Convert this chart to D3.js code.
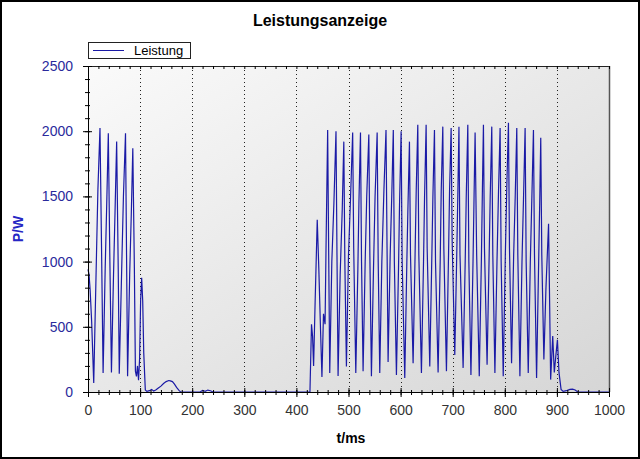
<!DOCTYPE html>
<html>
<head>
<meta charset="utf-8">
<script src="https://cdn.jsdelivr.net/npm/d3@7"></script>
<style>
  body { margin: 0; background: #fff; }
  svg { display: block; font-family: Arial, "Liberation Sans", sans-serif; }
</style>
</head>
<body>
<div id="chart"></div>
<script>
// values: time in ms, power in W
const timeMs = [
  0, 2, 4, 7, 11, 16, 19, 23, 26, 29, 33, 36, 39, 42, 45, 49, 52, 55, 58, 60,
  65, 68, 72, 74, 76, 80, 83, 86, 89, 91, 93, 95, 97, 99, 101, 103, 105, 107, 110, 113,
  118, 122, 126, 130, 135, 140, 145, 150, 155, 158, 162, 166, 170, 175, 178, 215, 220, 225, 230, 235,
  240, 426, 429, 431, 433, 436, 440, 443, 446, 449, 452, 455, 457, 460, 462, 464, 468, 472, 476, 478,
  480, 484, 488, 491, 493, 496, 500, 504, 508, 510, 514, 518, 520, 523, 525, 528, 532, 535, 539, 541,
  544, 548, 551, 555, 557, 560, 564, 568, 572, 574, 576, 580, 583, 586, 588, 592, 596, 598, 601, 603,
  608, 612, 614, 617, 619, 624, 628, 630, 633, 635, 640, 644, 646, 649, 651, 656, 660, 662, 665, 667,
  672, 676, 678, 681, 683, 688, 692, 694, 697, 699, 704, 708, 710, 712, 714, 720, 724, 726, 729, 731,
  735, 739, 741, 743, 746, 751, 755, 757, 759, 761, 766, 770, 772, 775, 777, 781, 785, 788, 791, 793,
  797, 801, 804, 807, 809, 813, 817, 820, 823, 825, 829, 833, 836, 839, 841, 845, 849, 852, 855, 857,
  861, 865, 867, 869, 871, 875, 879, 884, 886, 888, 892, 895, 898, 901, 904, 908, 912, 918, 925, 930,
  935, 940, 1000
];
const powerW = [
  940, 900, 790, 540, 70, 1000, 1550, 2025, 1100, 145, 950, 1450, 1985, 1000, 150, 900, 1400, 1920, 950, 140,
  1000, 1500, 1985, 1050, 120, 900, 1350, 1870, 950, 160, 120, 200, 90, 250, 700, 875, 700, 300, 15, 5,
  10, 20, 8, 15, 30, 45, 65, 80, 88, 85, 80, 60, 35, 10, 0, 0, 12, 5, 15, 10,
  0, 0, 520, 430, 200, 700, 1320, 950, 520, 115, 600, 520, 1150, 2010, 1050, 145, 1000, 1450, 2000, 1000,
  122, 900, 1400, 1920, 1000, 195, 1050, 1500, 1990, 1100, 145, 950, 1450, 1990, 1000, 160, 1000, 1500, 1975, 1050,
  120, 950, 1500, 1990, 1000, 145, 1000, 1550, 2010, 1100, 230, 1050, 1500, 2010, 1000, 130, 950, 1450, 2000, 1000,
  107, 1000, 1400, 1920, 1050, 220, 1100, 1550, 2050, 1050, 145, 1000, 1500, 2050, 1100, 195, 1050, 1500, 2010, 1000,
  150, 1000, 1550, 2035, 1100, 160, 1050, 1550, 2025, 1150, 283, 1100, 1550, 2035, 1050, 185, 1000, 1500, 2050, 1000,
  130, 1000, 1500, 1990, 1050, 120, 1000, 1550, 2050, 1100, 210, 1050, 1500, 2035, 1050, 145, 1000, 1550, 2025, 1000,
  120, 1050, 1600, 2065, 1100, 220, 1050, 1500, 2025, 1050, 120, 1000, 1500, 2025, 1000, 145, 1000, 1500, 2010, 1050,
  107, 1000, 1450, 1950, 1050, 250, 800, 1290, 700, 95, 430, 150, 280, 400, 150, 20, 5, 10, 20, 22,
  15, 0, 0
];
const xTicks = [0, 100, 200, 300, 400, 500, 600, 700, 800, 900, 1000];
const yTicks = [0, 500, 1000, 1500, 2000, 2500];
const gridTicks = [100, 200, 300, 400, 500, 600, 700, 800, 900];

const W = 640, H = 459;
const margin = {top: 66, right: 31, bottom: 67, left: 88};
const width = W - margin.left - margin.right,
  height = H - margin.top - margin.bottom;

const data = timeMs.map((t, i) => ({t: t, p: powerW[i]}));

const svg = d3.select("#chart").append("svg")
  .attr("width", W)
  .attr("height", H);

const defs = svg.append("defs");
const grad = defs.append("linearGradient")
  .attr("id", "bg")
  .attr("x1", "0%").attr("y1", "0%")
  .attr("x2", "100%").attr("y2", "100%");
grad.append("stop").attr("offset", "0%").attr("stop-color", "#fafafa");
grad.append("stop").attr("offset", "100%").attr("stop-color", "#d6d6d6");

svg.append("rect")
  .attr("x", 1).attr("y", 1)
  .attr("width", W - 2).attr("height", H - 2)
  .attr("fill", "#fff")
  .attr("stroke", "#000")
  .attr("stroke-width", 2);

svg.append("text")
  .attr("x", W / 2).attr("y", 26)
  .attr("text-anchor", "middle")
  .attr("font-size", 16).attr("font-weight", "bold")
  .attr("fill", "#000")
  .text("Leistungsanzeige");

const g = svg.append("g")
  .attr("transform", `translate(${margin.left}, ${margin.top})`);

const xScale = d3.scaleLinear().domain([0, 1000]).range([0, width]);
const yScale = d3.scaleLinear().domain([0, 2500]).range([height, 0]);

g.append("rect")
  .attr("width", width).attr("height", height)
  .attr("fill", "url(#bg)");

// dotted vertical grid
g.selectAll(".grid")
  .data(gridTicks)
  .join("line")
  .attr("class", "grid")
  .attr("x1", d => Math.round(xScale(d)) + 0.5)
  .attr("x2", d => Math.round(xScale(d)) + 0.5)
  .attr("y1", 0).attr("y2", height)
  .attr("stroke", "#222")
  .attr("stroke-dasharray", "1,3");

const line = d3.line()
  .x(d => xScale(d.t))
  .y(d => yScale(d.p));

g.append("path")
  .datum(data)
  .attr("fill", "none")
  .attr("stroke", "#1a1aa6")
  .attr("stroke-width", 1.2)
  .attr("d", line);

// frame: top and right
g.append("line")
  .attr("x1", 0).attr("x2", width).attr("y1", 0.5).attr("y2", 0.5)
  .attr("stroke", "#222");
g.append("line")
  .attr("x1", width + 0.5).attr("x2", width + 0.5).attr("y1", 0).attr("y2", height)
  .attr("stroke", "#555").attr("stroke-width", 1.5);

// minor ticks along the top edge
g.append("g")
  .call(d3.axisTop(xScale).ticks(50).tickSize(-3).tickFormat(""))
  .call(a => a.select(".domain").remove())
  .selectAll("line").attr("stroke", "#222");

const fmt = d3.format("d");

// x axis: minor ticks crossing, then major ticks crossing
const xAxisG = g.append("g").attr("transform", `translate(0, ${height})`);
xAxisG.append("g")
  .attr("transform", "translate(0, -2)")
  .call(d3.axisBottom(xScale).ticks(50).tickSize(5).tickFormat(""))
  .call(a => a.select(".domain").remove());
xAxisG.append("g")
  .attr("transform", "translate(0, -4)")
  .call(d3.axisBottom(xScale).tickValues(xTicks).tickSize(9).tickFormat(""))
  .call(a => a.select(".domain").remove());
xAxisG.append("g")
  .call(d3.axisBottom(xScale).tickValues(xTicks).tickSize(0).tickPadding(13).tickFormat(fmt))
  .call(a => a.select(".domain").attr("stroke", "#000"))
  .call(a => a.selectAll("text").attr("font-size", 14).attr("fill", "#333")
    .attr("font-family", "Arial, 'Liberation Sans', sans-serif"));

// y axis
const yAxisG = g.append("g");
yAxisG.append("g")
  .attr("transform", "translate(2, 0)")
  .call(d3.axisLeft(yScale).ticks(25).tickSize(5).tickFormat(""))
  .call(a => a.select(".domain").remove());
yAxisG.append("g")
  .attr("transform", "translate(4, 0)")
  .call(d3.axisLeft(yScale).tickValues(yTicks).tickSize(9).tickFormat(""))
  .call(a => a.select(".domain").remove());
yAxisG.append("g")
  .call(d3.axisLeft(yScale).tickValues(yTicks).tickSize(0).tickPadding(15).tickFormat(fmt))
  .call(a => a.select(".domain").attr("stroke", "#000"))
  .call(a => a.selectAll("text").attr("font-size", 14).attr("fill", "#2a2a9c")
    .attr("font-family", "Arial, 'Liberation Sans', sans-serif"));

g.selectAll(".tick line").attr("stroke", "#000");

// axis titles
svg.append("text")
  .attr("x", 351).attr("y", 443)
  .attr("text-anchor", "middle")
  .attr("font-size", 14).attr("font-weight", "bold")
  .attr("fill", "#000")
  .text("t/ms");

svg.append("text")
  .attr("transform", "translate(23, 229) rotate(-90)")
  .attr("text-anchor", "middle")
  .attr("font-size", 14).attr("font-weight", "bold")
  .attr("fill", "#2626c4")
  .text("P/W");

// legend
const legend = svg.append("g").attr("transform", "translate(88, 42)");
legend.append("rect")
  .attr("x", 0.5).attr("y", 0.5)
  .attr("width", 102).attr("height", 16)
  .attr("fill", "#fff")
  .attr("stroke", "#222");
legend.append("line")
  .attr("x1", 5).attr("x2", 36).attr("y1", 8.5).attr("y2", 8.5)
  .attr("stroke", "#1a1aa6");
legend.append("text")
  .attr("x", 46).attr("y", 13)
  .attr("font-size", 13)
  .attr("fill", "#000")
  .text("Leistung");
</script>
</body>
</html>
